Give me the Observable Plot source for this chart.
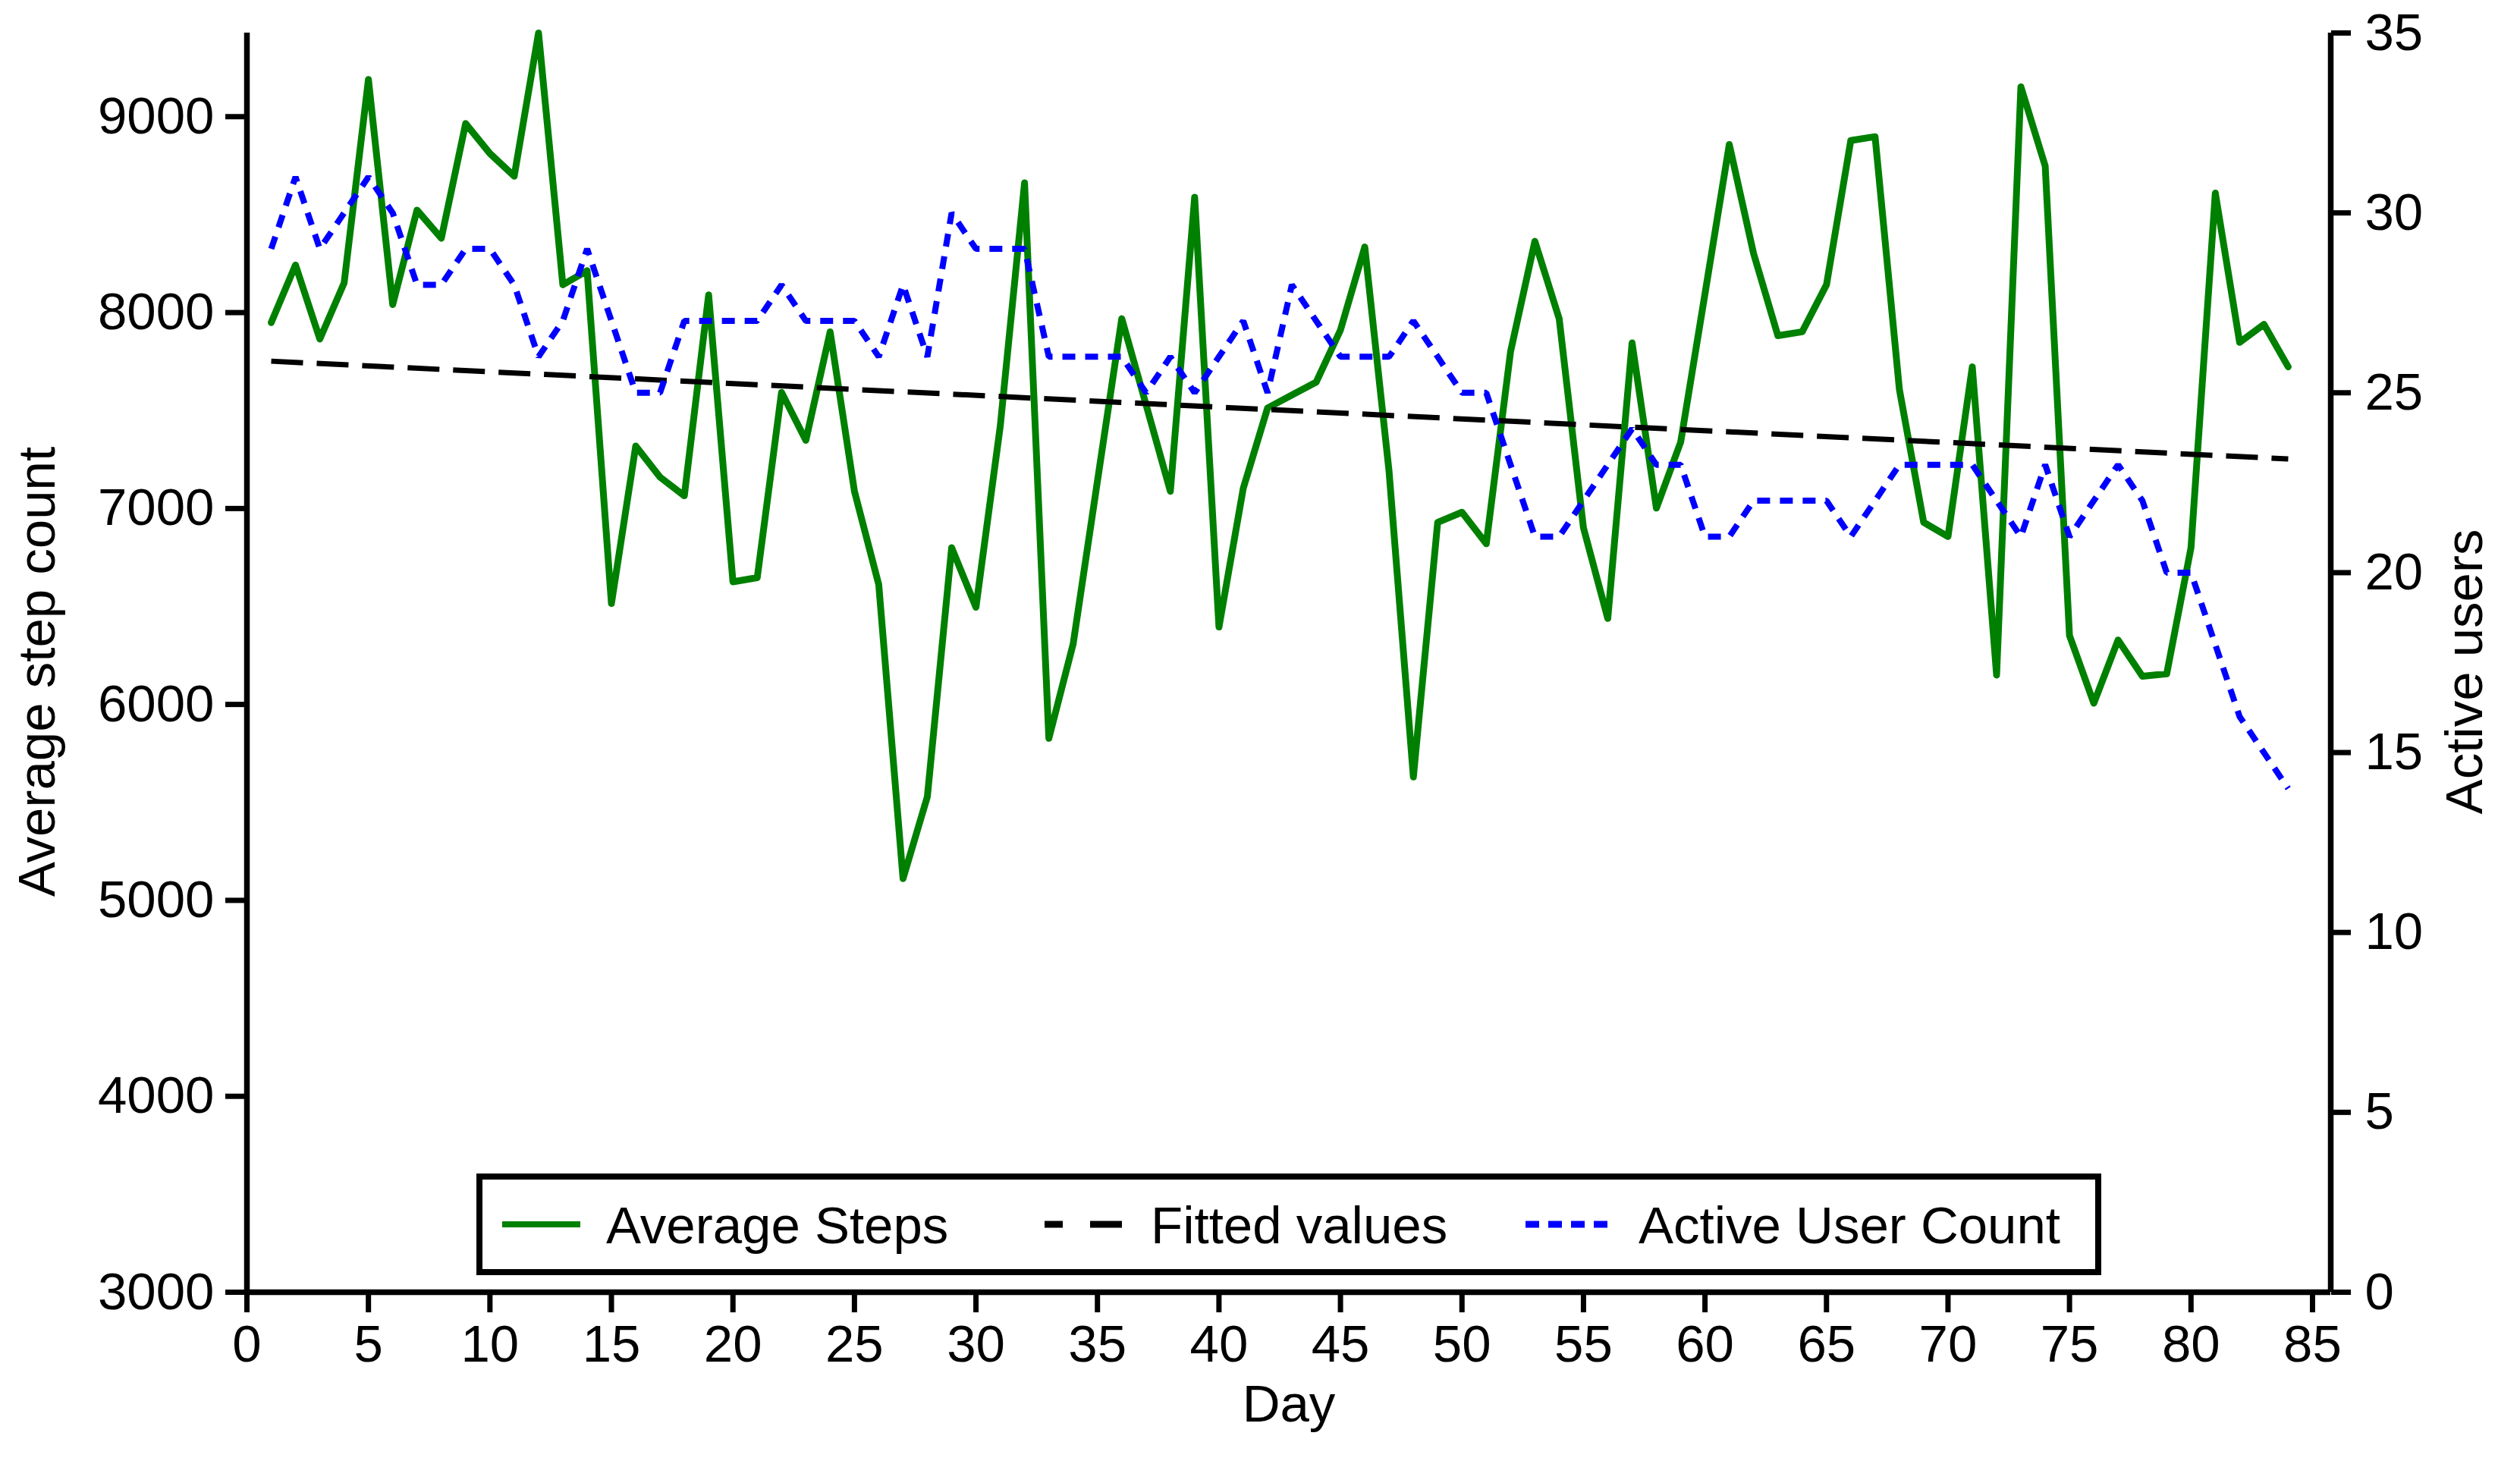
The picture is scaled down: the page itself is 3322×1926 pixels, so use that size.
<!DOCTYPE html>
<html>
<head>
<meta charset="utf-8">
<script src="https://cdn.jsdelivr.net/npm/d3@7"></script>
<script src="https://cdn.jsdelivr.net/npm/@observablehq/plot@0.6"></script>
<style>
  html, body { margin: 0; padding: 0; background: #ffffff; }
  svg { display: block; }
</style>
</head>
<body>
<div id="chart"></div>
<script>
// ---------- data ----------
const days = [1,2,3,4,5,6,7,8,9,10,11,12,13,14,15,16,17,18,19,20,
  21,22,23,24,25,26,27,28,29,30,31,32,33,34,35,36,37,38,39,40,
  41,42,43,44,45,46,47,48,49,50,51,52,53,54,55,56,57,58,59,60,
  61,62,63,64,65,66,67,68,69,70,71,72,73,74,75,76,77,78,79,80,
  81,82,83,84];

const averageSteps = [7949,8243,7865,8151,9190,8041,8523,8379,8965,8812,
  8696,9427,8142,8214,6515,7319,7160,7065,8090,6626,
  6647,7593,7348,7902,7088,6612,5111,5529,6800,6496,
  7420,8662,5827,6309,7140,7969,7530,7088,8589,6395,
  7103,7513,7579,7645,7911,8335,7189,5630,6929,6981,
  6820,7801,8364,7969,6901,6439,7845,7002,7339,8096,
  8858,8301,7882,7902,8142,8878,8898,7608,6929,6857,
  7723,6150,9152,8748,6352,6006,6329,6144,6156,6800,
  8610,7848,7940,7723];

const activeUsers = [29,31,29,30,31,30,28,28,29,29,
  28,26,27,29,27,25,25,27,27,27,
  27,28,27,27,27,26,28,26,30,29,
  29,29,26,26,26,26,25,26,25,26,
  27,25,28,27,26,26,26,27,26,25,
  25,23,21,21,22,23,24,23,23,21,
  21,22,22,22,22,21,22,23,23,23,
  23,22,21,23,21,22,23,22,20,20,
  18,16,15,14];

const fittedDays = [1, 84];
const fittedSteps = [7752, 7253];

const xTicks = [0,5,10,15,20,25,30,35,40,45,50,55,60,65,70,75,80,85];
const leftTicks = [3000,4000,5000,6000,7000,8000,9000];
const rightTicks = [0,5,10,15,20,25,30,35];

const legendLabels = ["Average Steps", "Fitted values", "Active User Count"];
const seriesColors = ["#008000", "#000000", "#0000ff"];

const xLabel = "Day";
const leftLabel = "Average step count";
const rightLabel = "Active users";

// ---------- scales ----------
const X_MAX = 85.75;
const LEFT_MIN = 3000, LEFT_MAX = 9427, RIGHT_MAX = 35;
const toLeft = u => LEFT_MIN + u * (LEFT_MAX - LEFT_MIN) / RIGHT_MAX;
const fromLeft = v => Math.round((v - LEFT_MIN) * RIGHT_MAX / (LEFT_MAX - LEFT_MIN));

const stepsData = days.map((d, i) => ({day: d, steps: averageSteps[i]}));
const usersData = days.map((d, i) => ({day: d, users: activeUsers[i]}));
const fitData = fittedDays.map((d, i) => ({day: d, steps: fittedSteps[i]}));

const FONT = 69;

const svg = Plot.plot({
  width: 3322,
  height: 1926,
  marginLeft: 325,
  marginRight: 250,
  marginTop: 43,
  marginBottom: 223,
  style: {
    fontFamily: "'Liberation Sans', Arial, Helvetica, sans-serif",
    fontSize: FONT + "px",
    color: "#000",
    background: "#fff"
  },
  x: {domain: [0, X_MAX]},
  y: {domain: [LEFT_MIN, LEFT_MAX]},
  marks: [
    Plot.axisX(xTicks, {tickSize: 27, tickPadding: 15, strokeWidth: 7, label: null, fontSize: FONT, tickFormat: d => String(d)}),
    Plot.axisY(leftTicks, {tickSize: 28, tickPadding: 15, strokeWidth: 7, label: null, fontSize: FONT, tickFormat: d => String(d)}),
    Plot.axisY(rightTicks.map(toLeft), {anchor: "right", tickSize: 26, tickPadding: 19, strokeWidth: 7, label: null, fontSize: FONT, tickFormat: d => String(fromLeft(d))}),
    Plot.line(stepsData, {x: "day", y: "steps", stroke: seriesColors[0], strokeWidth: 9, strokeLinejoin: "round", strokeLinecap: "round"}),
    Plot.line(fitData, {x: "day", y: "steps", stroke: seriesColors[1], strokeWidth: 7, strokeDasharray: "42 18", strokeLinecap: "butt"}),
    Plot.line(usersData, {x: "day", y: d => toLeft(d.users), stroke: seriesColors[2], strokeWidth: 8, strokeDasharray: "17 13", strokeLinecap: "butt", strokeLinejoin: "miter"}),
    Plot.ruleX([0], {strokeWidth: 7.5}),
    Plot.ruleX([X_MAX], {strokeWidth: 7.5}),
    Plot.ruleY([LEFT_MIN], {strokeWidth: 7.5}),
    Plot.text([leftLabel], {frameAnchor: "left", textAnchor: "middle", rotate: -90, dx: -276, dy: 12, fontSize: FONT}),
    Plot.text([rightLabel], {frameAnchor: "right", textAnchor: "middle", rotate: -90, dx: 177, dy: 12, fontSize: FONT}),
    Plot.text([xLabel], {frameAnchor: "bottom", textAnchor: "middle", dy: 170, fontSize: FONT})
  ]
});

document.getElementById("chart").appendChild(svg);

// ---------- legend (inside plot region, bottom) ----------
const lg = d3.select(svg).append("g").attr("class", "legend").attr("text-anchor", "start");
lg.append("rect")
  .attr("x", 632).attr("y", 1551).attr("width", 2134).attr("height", 126)
  .attr("fill", "#fff").attr("stroke", "#000").attr("stroke-width", 8);

const legendItems = [
  {x1: 662, x2: 765, tx: 799, dash: null},
  {x1: 1377, x2: 1479, tx: 1517, dash: "24 36 42 100"},
  {x1: 2011, x2: 2119, tx: 2160, dash: "18 12"}
];
legendItems.forEach((it, i) => {
  const ln = lg.append("line")
    .attr("x1", it.x1).attr("x2", it.x2).attr("y1", 1614).attr("y2", 1614)
    .attr("stroke", seriesColors[i]).attr("stroke-width", i === 0 ? 8 : 9);
  if (it.dash) ln.attr("stroke-dasharray", it.dash);
  lg.append("text")
    .attr("x", it.tx).attr("y", 1639)
    .attr("font-size", FONT)
    .attr("text-anchor", "start")
    .attr("fill", "#000")
    .text(legendLabels[i]);
});
</script>
</body>
</html>
